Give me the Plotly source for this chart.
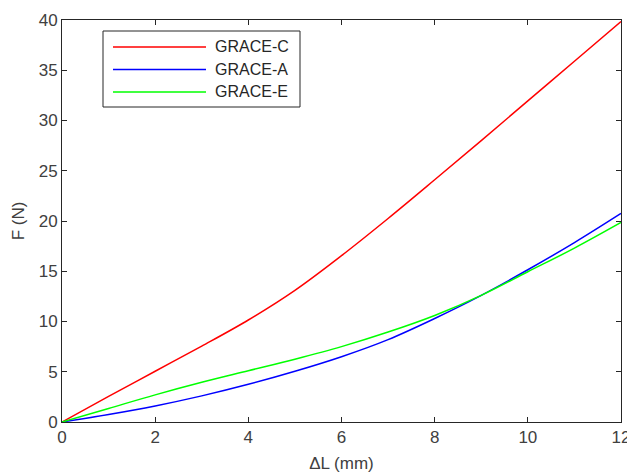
import plotly.graph_objects as go

# Data
delta_l = [0, 1, 2, 3, 4, 5, 6, 7, 8, 9, 10, 11, 12]
grace_c = [0, 2.55, 5.05, 7.55, 10.15, 13.1, 16.55, 20.25, 24.1, 28.0, 31.95, 35.9, 39.85]
grace_a = [0, 0.75, 1.6, 2.6, 3.75, 5.05, 6.5, 8.2, 10.3, 12.6, 15.15, 17.85, 20.75]
grace_e = [0, 1.35, 2.7, 3.95, 5.1, 6.25, 7.5, 8.95, 10.6, 12.6, 14.95, 17.3, 19.85]
series_names = ["GRACE-C", "GRACE-A", "GRACE-E"]
series_colors = ["#ff0000", "#0000ff", "#00ff00"]
x_ticks = [0, 2, 4, 6, 8, 10, 12]
y_ticks = [0, 5, 10, 15, 20, 25, 30, 35, 40]

FONT = "Liberation Sans, Arial, sans-serif"
AX = "#262626"
TXT = "#404040"

fig = go.Figure()
for name, ys, col in zip(series_names, [grace_c, grace_a, grace_e], series_colors):
    fig.add_trace(go.Scatter(x=delta_l, y=ys, mode="lines", name=name,
                             line=dict(color=col, width=1.5, shape="spline", smoothing=1.0),
                             showlegend=False))

axis_common = dict(showline=True, mirror="ticks", linecolor=AX, linewidth=1,
                   ticks="inside", ticklen=5, tickcolor=AX, tickwidth=1,
                   showgrid=False, zeroline=False, automargin=False,
                   tickfont=dict(family=FONT, size=17, color=TXT))

fig.update_xaxes(range=[0, 12], tickvals=x_ticks,
                 title=dict(text="\u0394L (mm)", font=dict(family=FONT, size=17, color=TXT), standoff=10),
                 **axis_common)
fig.update_yaxes(range=[0, 40], tickvals=y_ticks,
                 title=dict(text="F (N)", font=dict(family=FONT, size=17, color=TXT), standoff=9),
                 **axis_common)

# The page places the figure 8px in from the top-left corner, so size and
# margins are reduced by that offset to land the plot area where it is in the reference.
OFF = 8
W, H = 635 - OFF, 473 - OFF
L, R, T, B = 62 - OFF, 14, 20 - OFF, 51
pw, ph = W - L - R, H - T - B

def px(x):
    return (x - OFF - L) / pw

def py(y):
    return (H - B - (y - OFF)) / ph

shapes = [dict(type="rect", xref="paper", yref="paper",
               x0=px(103), x1=px(300), y0=py(107), y1=py(31),
               line=dict(color=AX, width=1), fillcolor="white", layer="above")]
annotations = []
for i, (name, col) in enumerate(zip(series_names, series_colors)):
    yy = 47 + i * 22.5
    shapes.append(dict(type="line", xref="paper", yref="paper",
                       x0=px(113), x1=px(206), y0=py(yy), y1=py(yy),
                       line=dict(color=col, width=1.5), layer="above"))
    annotations.append(dict(xref="paper", yref="paper", x=px(213), y=py(yy),
                            xanchor="left", yanchor="middle", showarrow=False,
                            text=name, font=dict(family=FONT, size=16, color="#262626")))

fig.update_layout(width=W, height=H,
                  margin=dict(l=L, r=R, t=T, b=B),
                  paper_bgcolor="white", plot_bgcolor="white",
                  shapes=shapes, annotations=annotations,
                  showlegend=False)

fig.write_html("out.html")
